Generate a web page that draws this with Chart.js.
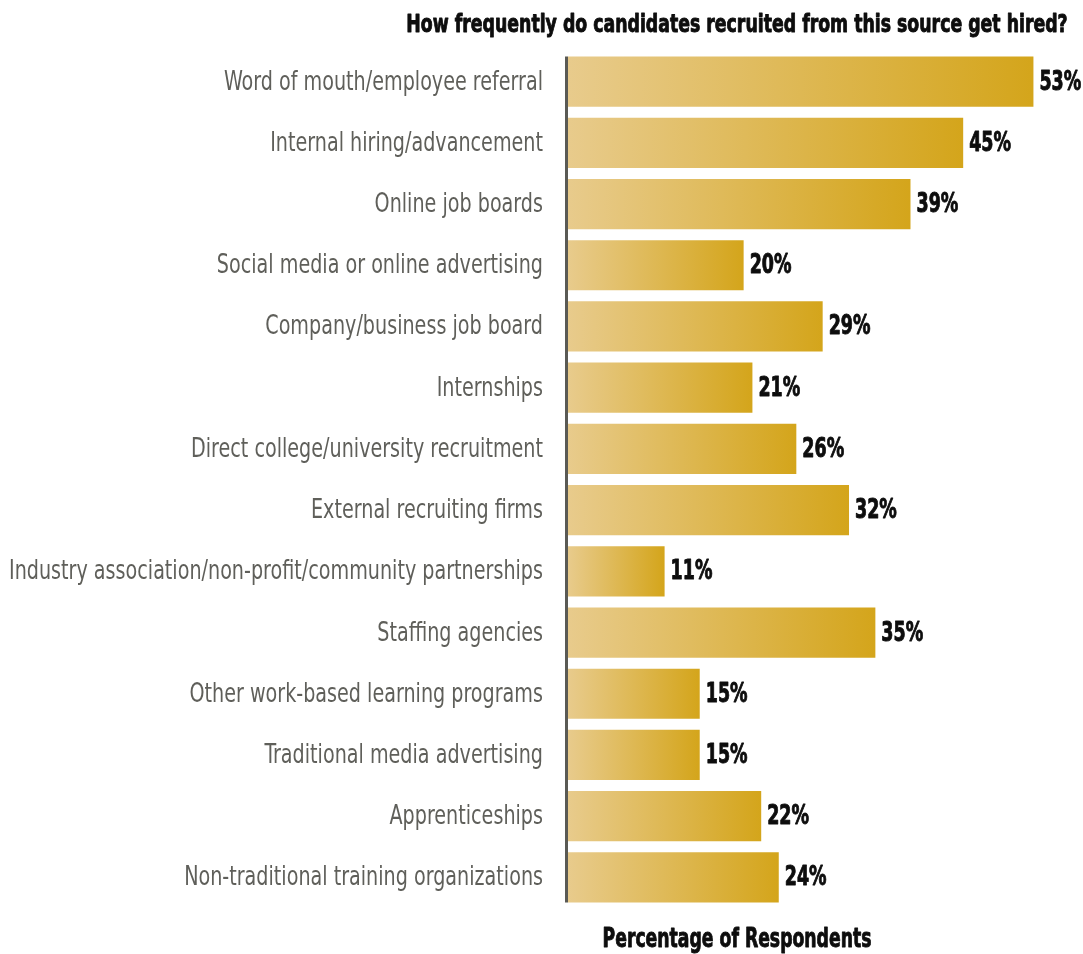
<!DOCTYPE html>
<html>
<head>
<meta charset="utf-8">
<script src="https://cdn.jsdelivr.net/npm/chart.js@4"></script>
<style>
  html, body { margin: 0; padding: 0; background: #fff; }
  #wrap { width: 1083px; height: 954px; }
</style>
</head>
<body>
<div id="wrap"><canvas id="hiredChart" width="1083" height="954"></canvas></div>
<script>
// Recruiting sources and how often their candidates get hired (% of respondents)
const sources = [
  "Word of mouth/employee referral",
  "Internal hiring/advancement",
  "Online job boards",
  "Social media or online advertising",
  "Company/business job board",
  "Internships",
  "Direct college/university recruitment",
  "External recruiting firms",
  "Industry association/non-profit/community partnerships",
  "Staffing agencies",
  "Other work-based learning programs",
  "Traditional media advertising",
  "Apprenticeships",
  "Non-traditional training organizations"
];
const hiredPct = [53, 45, 39, 20, 29, 21, 26, 32, 11, 35, 15, 15, 22, 24];

const chartTitle = "How frequently do candidates recruited from this source get hired?";
const axisTitle = "Percentage of Respondents";

const CONDENSED = "'DejaVu Sans Condensed', 'Liberation Sans Narrow', sans-serif";
const LIGHT_GOLD = "#e8cb8c";
const DARK_GOLD = "#d4a51b";
const LABEL_GAP = 25;      // space between category text and axis line
const LABEL_MAX = 534;     // widest category label, px

// each bar fades from light to dark gold along its own length
function barGradient(context) {
  const chart = context.chart;
  const x = chart.scales.x;
  if (!x || !context.parsed) return DARK_GOLD;
  const x0 = x.getPixelForValue(0);
  const x1 = x.getPixelForValue(context.parsed.x);
  if (!Number.isFinite(x0) || !Number.isFinite(x1) || x1 <= x0) return DARK_GOLD;
  const g = chart.ctx.createLinearGradient(x0, 0, x1, 0);
  g.addColorStop(0, LIGHT_GOLD);
  g.addColorStop(1, DARK_GOLD);
  return g;
}

// text drawn narrower than the font, to get a condensed look;
// heavy adds a thin outline so bold text reads as extra-bold
function squeezedText(ctx, text, x, y, align, sx, heavy) {
  ctx.save();
  ctx.translate(x, y);
  ctx.scale(sx, 1);
  ctx.textAlign = align;
  if (heavy) {
    ctx.strokeStyle = ctx.fillStyle;
    ctx.lineWidth = 0.9;
    ctx.lineJoin = "round";
    ctx.strokeText(text, 0, 0);
  }
  ctx.fillText(text, 0, 0);
  ctx.restore();
}

// category labels, value labels, vertical axis line and the two captions
const decorations = {
  id: "decorations",
  afterDatasetsDraw(chart) {
    const ctx = chart.ctx;
    const bars = chart.getDatasetMeta(0).data;
    const area = chart.chartArea;
    const yScale = chart.scales.y;

    ctx.save();
    // axis line only spans the bars
    const first = bars[0], last = bars[bars.length - 1];
    ctx.strokeStyle = "#5a5a55";
    ctx.lineWidth = 3;
    ctx.beginPath();
    ctx.moveTo(area.left - 1.5, first.y - first.height / 2);
    ctx.lineTo(area.left - 1.5, last.y + last.height / 2);
    ctx.stroke();

    ctx.textBaseline = "middle";

    // category names
    ctx.font = "27px " + CONDENSED;
    ctx.fillStyle = "#5f5f5a";
    const widest = Math.max(...sources.map(s => ctx.measureText(s).width));
    const labelSx = Math.min(1, LABEL_MAX / widest);
    sources.forEach((s, i) => {
      squeezedText(ctx, s, area.left - LABEL_GAP, yScale.getPixelForValue(i) + 1, "right", labelSx, false);
    });

    // percentages at the bar ends
    ctx.fillStyle = "#0d0d0d";
    ctx.font = "bold 27px " + CONDENSED;
    bars.forEach((bar, i) => {
      squeezedText(ctx, hiredPct[i] + "%", bar.x + 6, bar.y + 1, "left", 0.72, true);
    });

    const cx = 737;
    ctx.font = "bold 25px " + CONDENSED;
    squeezedText(ctx, chartTitle, cx, 25, "center", 0.77, true);
    ctx.font = "bold 27px " + CONDENSED;
    squeezedText(ctx, axisTitle, cx, 940, "center", 0.71, true);
    ctx.restore();
  }
};

new Chart(document.getElementById("hiredChart"), {
  type: "bar",
  data: {
    labels: sources,
    datasets: [{
      data: hiredPct,
      backgroundColor: barGradient,
      borderWidth: 0,
      barPercentage: 0.82,
      categoryPercentage: 1
    }]
  },
  options: {
    indexAxis: "y",
    responsive: false,
    animation: false,
    layout: { padding: { top: 51, bottom: 46, right: 32, left: 0 } },
    plugins: {
      legend: { display: false },
      tooltip: { enabled: false }
    },
    scales: {
      x: {
        display: false,
        min: 0,
        max: 55
      },
      y: {
        afterFit(scale) { scale.width = 568; },
        grid: { display: false, drawTicks: false },
        border: { display: false },
        ticks: { display: false }
      }
    }
  },
  plugins: [decorations]
});
</script>
</body>
</html>
